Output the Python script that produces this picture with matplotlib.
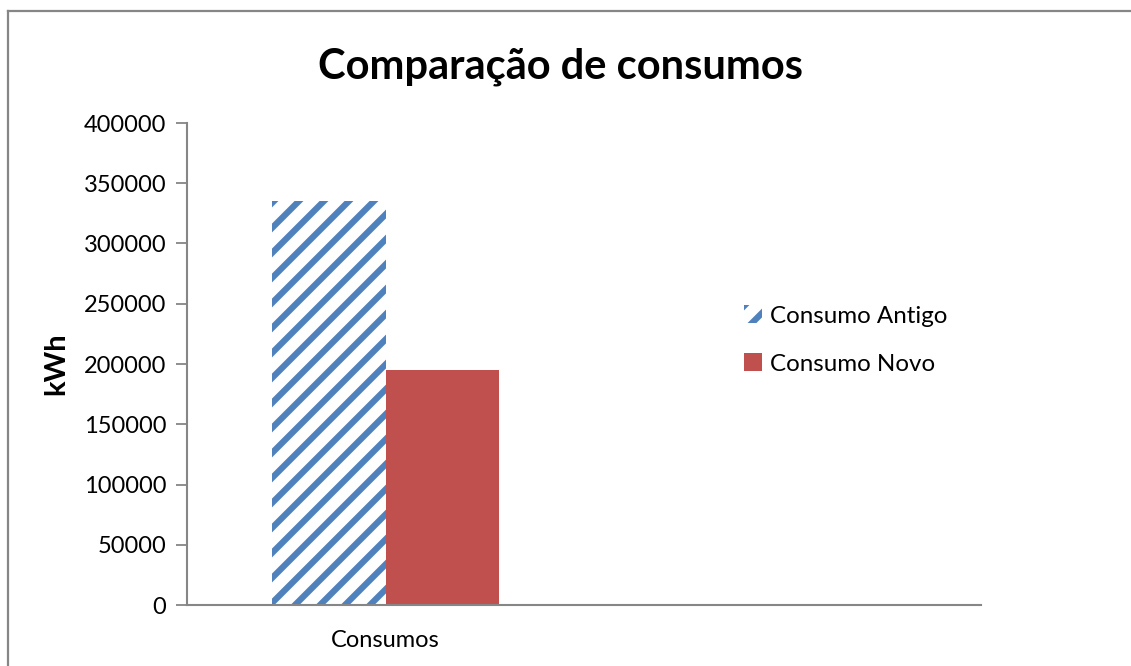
import matplotlib.pyplot as plt
from matplotlib.lines import Line2D

# ------------------------
# Data
# ------------------------
categories = ["Consumos", ""]
series_names = ["Consumo Antigo", "Consumo Novo"]
consumo_antigo = [335000, 0]
consumo_novo = [195000, 0]
y_ticks = [0, 50000, 100000, 150000, 200000, 250000, 300000, 350000, 400000]

# ------------------------
# Style
# ------------------------
# dpi 75 so that the '/' hatch repeats every 25 px like the original
DPI = 75
k = 100 / DPI          # sizes below were tuned for dpi 100

plt.rcParams['font.family'] = ['Lato', 'DejaVu Sans']
plt.rcParams['hatch.linewidth'] = 6.0
plt.rcParams['hatch.color'] = '#4F81BD'
grey = '#868686'

W, H = 1131, 666
fig = plt.figure(figsize=(W / DPI, H / DPI), dpi=DPI)
ax = fig.add_axes([187 / W, 1 - 605 / H, (981 - 187) / W, (605 - 123) / H])

# outer chart border: only left and top edges fall inside the image
bx, by = 7.5 / W, 1 - 11 / H
fig.lines.append(Line2D([bx, bx], [-0.1, by], transform=fig.transFigure,
                        color=grey, linewidth=1.6 * k))
fig.lines.append(Line2D([bx, 1.1], [by, by], transform=fig.transFigure,
                        color=grey, linewidth=1.6 * k))

x = list(range(len(categories)))
w = 0.286
ax.bar([i - w / 2 for i in x], consumo_antigo, width=w, color='white',
       hatch='/', linewidth=0, label=series_names[0])
ax.bar([i + w / 2 for i in x], consumo_novo, width=w, color='#C0504D',
       linewidth=0, label=series_names[1])

ax.set_xlim(-0.5, 1.5)
ax.set_ylim(0, 400000)
ax.set_yticks(y_ticks)
ax.set_yticklabels([str(v) for v in y_ticks], fontsize=17 * k)
ax.set_xticks([0])
ax.set_xticklabels([categories[0]], fontsize=17 * k)
ax.tick_params(axis='x', length=0, pad=18 * k)
ax.tick_params(axis='y', length=8 * k, width=1.3 * k, color=grey, pad=7 * k)

for s in ['top', 'right']:
    ax.spines[s].set_visible(False)
for s in ['left', 'bottom']:
    ax.spines[s].set_color(grey)
    ax.spines[s].set_linewidth(1.5 * k)

ax.set_ylabel("kWh", fontsize=21 * k, fontweight='bold')
ax.yaxis.set_label_coords(56 / W, 1 - 364 / H, transform=fig.transFigure)
ax.yaxis.label.set_va('center')
fig.text(561 / W, 1 - 67 / H, "Comparação de consumos", ha='center',
         va='center', fontsize=30 * k, fontweight='bold')

ax.legend(loc='center left', bbox_to_anchor=(722 / W, 1 - 340 / H),
          bbox_transform=fig.transFigure, frameon=False, fontsize=17.4 * k,
          handlelength=0.75, handleheight=0.75, handletextpad=0.35,
          labelspacing=1.1)

fig.savefig("out.png", dpi=DPI)
